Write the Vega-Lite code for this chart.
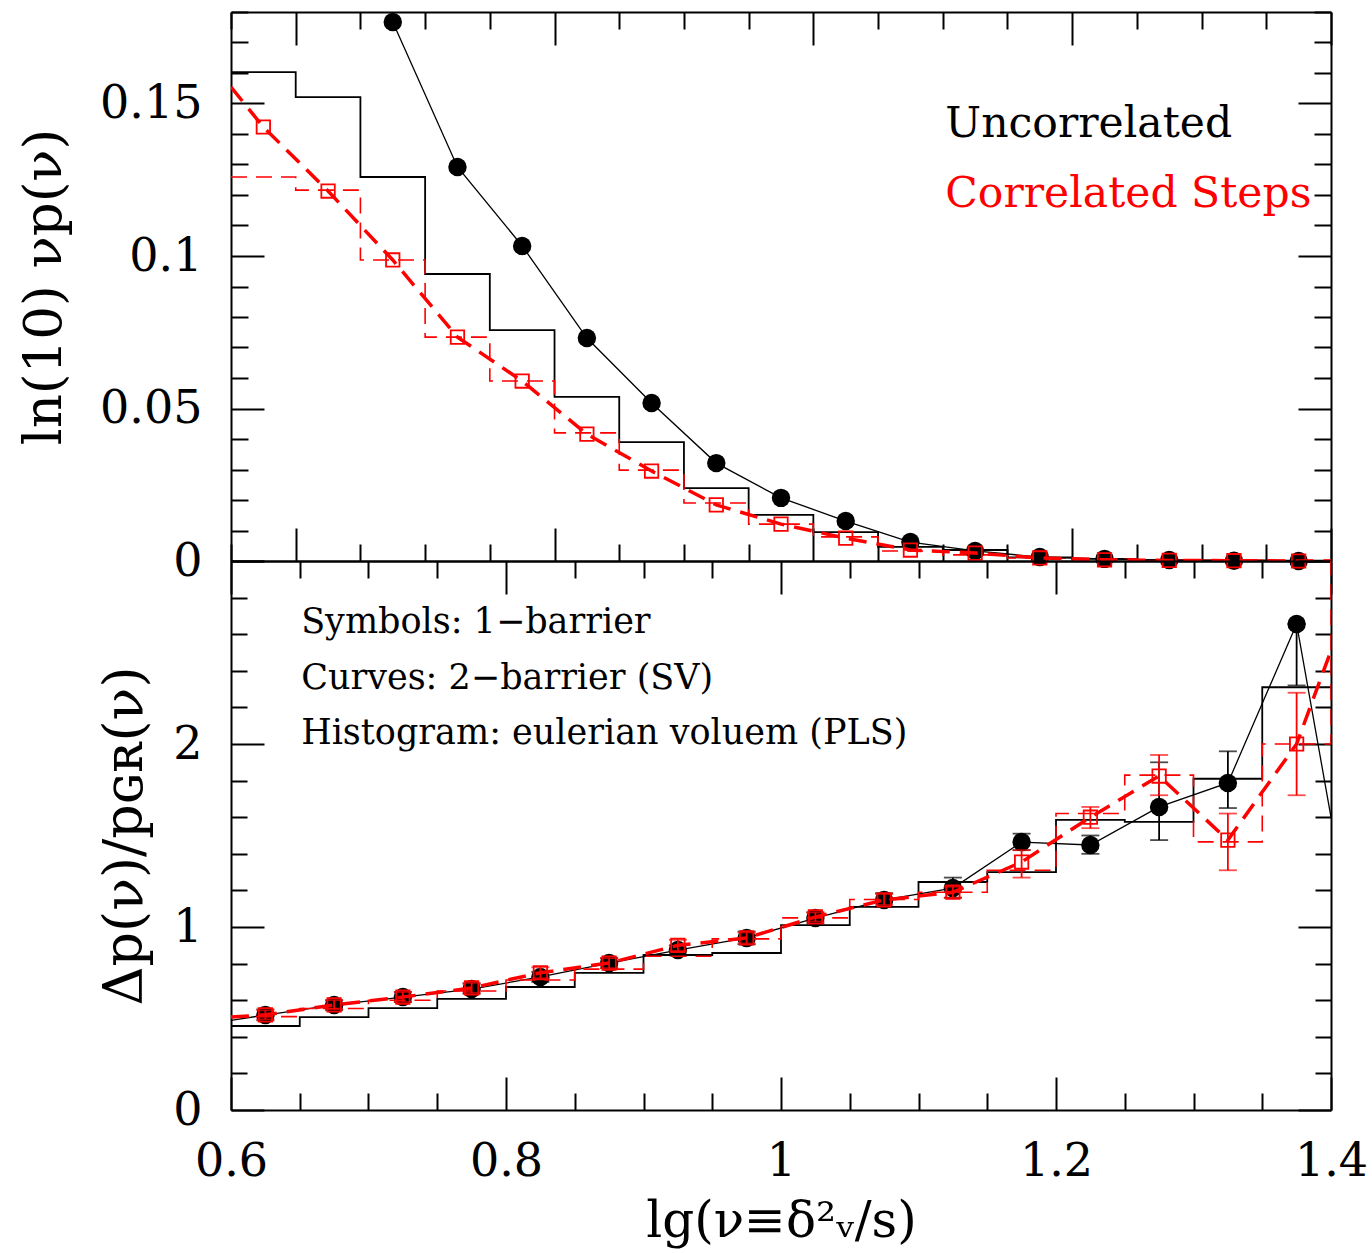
{
  "$schema": "https://vega.github.io/schema/vega-lite/v6.json",
  "background": "white",
  "padding": {"left": 18, "top": 11, "right": 5, "bottom": 5},
  "spacing": 0,
  "bounds": "flush",
  "config": {
    "font": "DejaVu Serif",
    "view": {"stroke": null},
    "axis": {
      "grid": false,
      "domainColor": "black",
      "domainWidth": 2,
      "tickColor": "black",
      "tickWidth": 2,
      "labelFont": "DejaVu Serif",
      "labelFontSize": 46,
      "labelColor": "black",
      "labelOverlap": false,
      "labelFlush": false,
      "titleFont": "DejaVu Serif",
      "titleFontSize": 50,
      "titleFontWeight": "normal",
      "titleColor": "black"
    }
  },
  "datasets": {
    "top_hist_uncorrelated": [
      {"lg_nu": 0.55, "value": 0.1603}, {"lg_nu": 0.60, "value": 0.1521}, {"lg_nu": 0.65, "value": 0.1259},
      {"lg_nu": 0.70, "value": 0.0941}, {"lg_nu": 0.75, "value": 0.0757}, {"lg_nu": 0.80, "value": 0.0538},
      {"lg_nu": 0.85, "value": 0.0390}, {"lg_nu": 0.90, "value": 0.0239}, {"lg_nu": 0.95, "value": 0.0151},
      {"lg_nu": 1.00, "value": 0.0095}, {"lg_nu": 1.05, "value": 0.0046}, {"lg_nu": 1.10, "value": 0.0036},
      {"lg_nu": 1.15, "value": 0.0012}, {"lg_nu": 1.20, "value": 0.0007}, {"lg_nu": 1.25, "value": 0.0003},
      {"lg_nu": 1.30, "value": 0.0002}, {"lg_nu": 1.35, "value": 0.0001}, {"lg_nu": 1.40, "value": 0.0001}
    ],
    "top_hist_correlated": [
      {"lg_nu": 0.55, "value": 0.1259}, {"lg_nu": 0.60, "value": 0.1216}, {"lg_nu": 0.65, "value": 0.0987},
      {"lg_nu": 0.70, "value": 0.0734}, {"lg_nu": 0.75, "value": 0.0590}, {"lg_nu": 0.80, "value": 0.0420},
      {"lg_nu": 0.85, "value": 0.0298}, {"lg_nu": 0.90, "value": 0.0190}, {"lg_nu": 0.95, "value": 0.0121},
      {"lg_nu": 1.00, "value": 0.0079}, {"lg_nu": 1.05, "value": 0.0033}, {"lg_nu": 1.10, "value": 0.0020},
      {"lg_nu": 1.15, "value": 0.0010}, {"lg_nu": 1.20, "value": 0.0006}, {"lg_nu": 1.25, "value": 0.0003},
      {"lg_nu": 1.30, "value": 0.0002}, {"lg_nu": 1.35, "value": 0.0001}, {"lg_nu": 1.40, "value": 0.0001}
    ],
    "top_curve_uncorrelated": [
      {"lg_nu": 0.675, "value": 0.1767}, {"lg_nu": 0.725, "value": 0.1292}, {"lg_nu": 0.775, "value": 0.1033},
      {"lg_nu": 0.825, "value": 0.0731}, {"lg_nu": 0.875, "value": 0.0518}, {"lg_nu": 0.925, "value": 0.0321},
      {"lg_nu": 0.975, "value": 0.0207}, {"lg_nu": 1.025, "value": 0.0131}, {"lg_nu": 1.075, "value": 0.0062},
      {"lg_nu": 1.125, "value": 0.0033}, {"lg_nu": 1.175, "value": 0.0013}, {"lg_nu": 1.225, "value": 0.0007},
      {"lg_nu": 1.275, "value": 0.0003}, {"lg_nu": 1.325, "value": 0.0001}, {"lg_nu": 1.375, "value": 0.0},
      {"lg_nu": 1.40, "value": 0.0}
    ],
    "top_curve_correlated": [
      {"lg_nu": 0.55, "value": 0.1554}, {"lg_nu": 0.575, "value": 0.1423}, {"lg_nu": 0.625, "value": 0.1213},
      {"lg_nu": 0.675, "value": 0.0987}, {"lg_nu": 0.725, "value": 0.0734}, {"lg_nu": 0.775, "value": 0.0590},
      {"lg_nu": 0.825, "value": 0.0416}, {"lg_nu": 0.875, "value": 0.0295}, {"lg_nu": 0.925, "value": 0.0184},
      {"lg_nu": 0.975, "value": 0.0121}, {"lg_nu": 1.025, "value": 0.0075}, {"lg_nu": 1.075, "value": 0.0036},
      {"lg_nu": 1.125, "value": 0.0026}, {"lg_nu": 1.175, "value": 0.0010}, {"lg_nu": 1.225, "value": 0.0004},
      {"lg_nu": 1.275, "value": 0.0002}, {"lg_nu": 1.325, "value": 0.0001}, {"lg_nu": 1.375, "value": 0.0},
      {"lg_nu": 1.40, "value": 0.0}
    ],
    "top_symbols_uncorrelated": [
      {"lg_nu": 0.675, "value": 0.1767}, {"lg_nu": 0.725, "value": 0.1292}, {"lg_nu": 0.775, "value": 0.1033},
      {"lg_nu": 0.825, "value": 0.0731}, {"lg_nu": 0.875, "value": 0.0518}, {"lg_nu": 0.925, "value": 0.0321},
      {"lg_nu": 0.975, "value": 0.0207}, {"lg_nu": 1.025, "value": 0.0131}, {"lg_nu": 1.075, "value": 0.0062},
      {"lg_nu": 1.125, "value": 0.0033}, {"lg_nu": 1.175, "value": 0.0013}, {"lg_nu": 1.225, "value": 0.0007},
      {"lg_nu": 1.275, "value": 0.0003}, {"lg_nu": 1.325, "value": 0.0001}, {"lg_nu": 1.375, "value": 0.0}
    ],
    "top_symbols_correlated": [
      {"lg_nu": 0.575, "value": 0.1423}, {"lg_nu": 0.625, "value": 0.1213}, {"lg_nu": 0.675, "value": 0.0987},
      {"lg_nu": 0.725, "value": 0.0734}, {"lg_nu": 0.775, "value": 0.0590}, {"lg_nu": 0.825, "value": 0.0416},
      {"lg_nu": 0.875, "value": 0.0295}, {"lg_nu": 0.925, "value": 0.0184}, {"lg_nu": 0.975, "value": 0.0121},
      {"lg_nu": 1.025, "value": 0.0075}, {"lg_nu": 1.075, "value": 0.0036}, {"lg_nu": 1.125, "value": 0.0026},
      {"lg_nu": 1.175, "value": 0.0010}, {"lg_nu": 1.225, "value": 0.0004}, {"lg_nu": 1.275, "value": 0.0002},
      {"lg_nu": 1.325, "value": 0.0001}, {"lg_nu": 1.375, "value": 0.0}
    ],
    "top_notes": [
      {"lg_nu": 1.102, "value": 0.1432, "note": "Uncorrelated", "series": "uncorrelated"},
      {"lg_nu": 1.102, "value": 0.1203, "note": "Correlated Steps", "series": "correlated"}
    ],
    "bottom_hist_uncorrelated": [
      {"lg_nu": 0.60, "value": 0.459}, {"lg_nu": 0.65, "value": 0.508}, {"lg_nu": 0.70, "value": 0.557},
      {"lg_nu": 0.75, "value": 0.607}, {"lg_nu": 0.80, "value": 0.672}, {"lg_nu": 0.85, "value": 0.749},
      {"lg_nu": 0.90, "value": 0.847}, {"lg_nu": 0.95, "value": 0.858}, {"lg_nu": 1.00, "value": 1.010},
      {"lg_nu": 1.05, "value": 1.110}, {"lg_nu": 1.10, "value": 1.246}, {"lg_nu": 1.15, "value": 1.300},
      {"lg_nu": 1.20, "value": 1.585}, {"lg_nu": 1.25, "value": 1.574}, {"lg_nu": 1.30, "value": 1.810},
      {"lg_nu": 1.35, "value": 2.310}, {"lg_nu": 1.40, "value": 2.310}
    ],
    "bottom_hist_correlated": [
      {"lg_nu": 0.60, "value": 0.510}, {"lg_nu": 0.65, "value": 0.555}, {"lg_nu": 0.70, "value": 0.600},
      {"lg_nu": 0.75, "value": 0.650}, {"lg_nu": 0.80, "value": 0.710}, {"lg_nu": 0.85, "value": 0.770},
      {"lg_nu": 0.90, "value": 0.840}, {"lg_nu": 0.95, "value": 0.935}, {"lg_nu": 1.00, "value": 1.050},
      {"lg_nu": 1.05, "value": 1.150}, {"lg_nu": 1.10, "value": 1.190}, {"lg_nu": 1.15, "value": 1.310},
      {"lg_nu": 1.20, "value": 1.620}, {"lg_nu": 1.25, "value": 1.830}, {"lg_nu": 1.30, "value": 1.465},
      {"lg_nu": 1.35, "value": 2.000}, {"lg_nu": 1.40, "value": 2.000}, {"lg_nu": 1.40, "value": 3.000}
    ],
    "bottom_curve_uncorrelated": [
      {"lg_nu": 0.60, "value": 0.490},
      {"lg_nu": 0.625, "value": 0.519}, {"lg_nu": 0.675, "value": 0.574}, {"lg_nu": 0.725, "value": 0.617},
      {"lg_nu": 0.775, "value": 0.661}, {"lg_nu": 0.825, "value": 0.727}, {"lg_nu": 0.875, "value": 0.803},
      {"lg_nu": 0.925, "value": 0.874}, {"lg_nu": 0.975, "value": 0.940}, {"lg_nu": 1.025, "value": 1.049},
      {"lg_nu": 1.075, "value": 1.148}, {"lg_nu": 1.125, "value": 1.213}, {"lg_nu": 1.175, "value": 1.464},
      {"lg_nu": 1.225, "value": 1.448}, {"lg_nu": 1.275, "value": 1.656}, {"lg_nu": 1.325, "value": 1.787},
      {"lg_nu": 1.375, "value": 2.656}, {"lg_nu": 1.40, "value": 1.600}
    ],
    "bottom_curve_correlated": [
      {"lg_nu": 0.60, "value": 0.508},
      {"lg_nu": 0.625, "value": 0.520}, {"lg_nu": 0.675, "value": 0.574}, {"lg_nu": 0.725, "value": 0.617},
      {"lg_nu": 0.775, "value": 0.667}, {"lg_nu": 0.825, "value": 0.750}, {"lg_nu": 0.875, "value": 0.803},
      {"lg_nu": 0.925, "value": 0.900}, {"lg_nu": 0.975, "value": 0.940}, {"lg_nu": 1.025, "value": 1.055},
      {"lg_nu": 1.075, "value": 1.148}, {"lg_nu": 1.125, "value": 1.190}, {"lg_nu": 1.175, "value": 1.355},
      {"lg_nu": 1.225, "value": 1.600}, {"lg_nu": 1.275, "value": 1.825}, {"lg_nu": 1.325, "value": 1.475},
      {"lg_nu": 1.375, "value": 2.000}, {"lg_nu": 1.40, "value": 2.510}
    ],
    "bottom_symbols_uncorrelated": [
      {"lg_nu": 0.625, "value": 0.519, "lo": 0.490, "hi": 0.550},
      {"lg_nu": 0.675, "value": 0.574, "lo": 0.545, "hi": 0.600},
      {"lg_nu": 0.725, "value": 0.617, "lo": 0.590, "hi": 0.645},
      {"lg_nu": 0.775, "value": 0.661, "lo": 0.635, "hi": 0.690},
      {"lg_nu": 0.825, "value": 0.727, "lo": 0.700, "hi": 0.755},
      {"lg_nu": 0.875, "value": 0.803, "lo": 0.775, "hi": 0.830},
      {"lg_nu": 0.925, "value": 0.874, "lo": 0.845, "hi": 0.900},
      {"lg_nu": 0.975, "value": 0.940, "lo": 0.905, "hi": 0.975},
      {"lg_nu": 1.025, "value": 1.049, "lo": 1.020, "hi": 1.080},
      {"lg_nu": 1.075, "value": 1.148, "lo": 1.110, "hi": 1.185},
      {"lg_nu": 1.125, "value": 1.213, "lo": 1.160, "hi": 1.270},
      {"lg_nu": 1.175, "value": 1.464, "lo": 1.420, "hi": 1.510},
      {"lg_nu": 1.225, "value": 1.448, "lo": 1.400, "hi": 1.500},
      {"lg_nu": 1.275, "value": 1.656, "lo": 1.475, "hi": 1.900},
      {"lg_nu": 1.325, "value": 1.787, "lo": 1.650, "hi": 1.960},
      {"lg_nu": 1.375, "value": 2.656, "lo": 2.320, "hi": 2.656}
    ],
    "bottom_symbols_correlated": [
      {"lg_nu": 0.625, "value": 0.520, "lo": 0.495, "hi": 0.545},
      {"lg_nu": 0.675, "value": 0.574, "lo": 0.550, "hi": 0.600},
      {"lg_nu": 0.725, "value": 0.617, "lo": 0.590, "hi": 0.645},
      {"lg_nu": 0.775, "value": 0.667, "lo": 0.640, "hi": 0.695},
      {"lg_nu": 0.825, "value": 0.750, "lo": 0.720, "hi": 0.780},
      {"lg_nu": 0.875, "value": 0.803, "lo": 0.775, "hi": 0.830},
      {"lg_nu": 0.925, "value": 0.900, "lo": 0.870, "hi": 0.930},
      {"lg_nu": 0.975, "value": 0.940, "lo": 0.910, "hi": 0.970},
      {"lg_nu": 1.025, "value": 1.055, "lo": 1.030, "hi": 1.080},
      {"lg_nu": 1.075, "value": 1.148, "lo": 1.120, "hi": 1.180},
      {"lg_nu": 1.125, "value": 1.190, "lo": 1.160, "hi": 1.220},
      {"lg_nu": 1.175, "value": 1.355, "lo": 1.270, "hi": 1.420},
      {"lg_nu": 1.225, "value": 1.600, "lo": 1.540, "hi": 1.656},
      {"lg_nu": 1.275, "value": 1.825, "lo": 1.720, "hi": 1.940},
      {"lg_nu": 1.325, "value": 1.475, "lo": 1.310, "hi": 1.620},
      {"lg_nu": 1.375, "value": 2.000, "lo": 1.720, "hi": 2.280}
    ],
    "bottom_notes": [
      {"lg_nu": 0.651, "value": 2.667, "note": "Symbols: 1−barrier"},
      {"lg_nu": 0.651, "value": 2.360, "note": "Curves: 2−barrier (SV)"},
      {"lg_nu": 0.651, "value": 2.060, "note": "Histogram: eulerian voluem (PLS)"}
    ]
  },
  "resolve": {"scale": {"x": "independent", "y": "independent"}},
  "vconcat": [
    {
      "width": 1100,
      "height": 549,
      "resolve": {"axis": {"x": "independent", "y": "independent"}},
      "layer": [
        {
          "data": {"name": "top_hist_uncorrelated"},
          "mark": {"type": "line", "interpolate": "step-after", "color": "black", "strokeWidth": 1.8, "clip": true},
          "encoding": {
            "x": {"field": "lg_nu", "type": "quantitative", "scale": {"domain": [0.55, 1.4], "nice": false, "zero": false},
              "axis": {"orient": "bottom", "title": null, "labels": false,
                "values": [0.55, 0.6, 0.65, 0.7, 0.75, 0.8, 0.85, 0.9, 0.95, 1, 1.05, 1.1, 1.15, 1.2, 1.25, 1.3, 1.35, 1.4],
                "tickSize": {"condition": {"test": "abs(datum.value*5 - round(datum.value*5)) < 0.001", "value": -33}, "value": -17}}},
            "y": {"field": "value", "type": "quantitative", "scale": {"domain": [0, 0.18], "nice": false},
              "axis": {"orient": "left", "title": "ln(10) νp(ν)", "titleFontSize": 53, "titlePadding": 28, "labelPadding": 62,
                "values": [0, 0.01, 0.02, 0.03, 0.04, 0.05, 0.06, 0.07, 0.08, 0.09, 0.1, 0.11, 0.12, 0.13, 0.14, 0.15, 0.16, 0.17, 0.18],
                "labelExpr": "abs(datum.value*20 - round(datum.value*20)) < 0.001 ? format(datum.value, '~g') : ''",
                "labelFontSize": {"condition": {"test": "abs(datum.value*20 - round(datum.value*20)) < 0.001", "value": 46}, "value": 0},
                "tickSize": {"condition": {"test": "abs(datum.value*20 - round(datum.value*20)) < 0.001", "value": -33}, "value": -17}}},
            "order": {"value": null}
          }
        },
        {
          "data": {"name": "top_hist_correlated"},
          "mark": {"type": "line", "interpolate": "step-after", "color": "red", "strokeWidth": 1.6, "strokeDash": [16, 9], "clip": true},
          "encoding": {
            "x": {"field": "lg_nu", "type": "quantitative", "scale": {"domain": [0.55, 1.4], "nice": false, "zero": false},
              "axis": {"orient": "top", "title": null, "labels": false,
                "values": [0.55, 0.6, 0.65, 0.7, 0.75, 0.8, 0.85, 0.9, 0.95, 1, 1.05, 1.1, 1.15, 1.2, 1.25, 1.3, 1.35, 1.4],
                "tickSize": {"condition": {"test": "abs(datum.value*5 - round(datum.value*5)) < 0.001", "value": -33}, "value": -17}}},
            "y": {"field": "value", "type": "quantitative", "scale": {"domain": [0, 0.18], "nice": false},
              "axis": {"orient": "right", "title": null, "labels": false,
                "values": [0, 0.01, 0.02, 0.03, 0.04, 0.05, 0.06, 0.07, 0.08, 0.09, 0.1, 0.11, 0.12, 0.13, 0.14, 0.15, 0.16, 0.17, 0.18],
                "tickSize": {"condition": {"test": "abs(datum.value*20 - round(datum.value*20)) < 0.001", "value": -33}, "value": -17}}},
            "order": {"value": null}
          }
        },
        {
          "data": {"name": "top_curve_uncorrelated"},
          "mark": {"type": "line", "color": "black", "strokeWidth": 1.3, "clip": true},
          "encoding": {
            "x": {"field": "lg_nu", "type": "quantitative", "scale": {"domain": [0.55, 1.4], "nice": false, "zero": false}, "axis": null},
            "y": {"field": "value", "type": "quantitative", "scale": {"domain": [0, 0.18], "nice": false}, "axis": null},
            "order": {"value": null}
          }
        },
        {
          "data": {"name": "top_symbols_uncorrelated"},
          "mark": {"type": "point", "shape": "circle", "filled": true, "color": "black", "opacity": 1, "size": 340},
          "encoding": {
            "x": {"field": "lg_nu", "type": "quantitative", "scale": {"domain": [0.55, 1.4], "nice": false, "zero": false}, "axis": null},
            "y": {"field": "value", "type": "quantitative", "scale": {"domain": [0, 0.18], "nice": false}, "axis": null}
          }
        },
        {
          "data": {"name": "top_curve_correlated"},
          "mark": {"type": "line", "color": "red", "strokeWidth": 3.5, "strokeDash": [18, 10], "clip": true},
          "encoding": {
            "x": {"field": "lg_nu", "type": "quantitative", "scale": {"domain": [0.55, 1.4], "nice": false, "zero": false}, "axis": null},
            "y": {"field": "value", "type": "quantitative", "scale": {"domain": [0, 0.18], "nice": false}, "axis": null},
            "order": {"value": null}
          }
        },
        {
          "data": {"name": "top_symbols_correlated"},
          "mark": {"type": "point", "shape": "square", "filled": false, "color": "red", "opacity": 1, "strokeWidth": 1.8, "size": 180},
          "encoding": {
            "x": {"field": "lg_nu", "type": "quantitative", "scale": {"domain": [0.55, 1.4], "nice": false, "zero": false}, "axis": null},
            "y": {"field": "value", "type": "quantitative", "scale": {"domain": [0, 0.18], "nice": false}, "axis": null}
          }
        },
        {
          "data": {"name": "top_notes"},
          "mark": {"type": "text", "align": "left", "baseline": "middle", "font": "DejaVu Serif", "fontSize": 42.5},
          "encoding": {
            "x": {"field": "lg_nu", "type": "quantitative", "scale": {"domain": [0.55, 1.4], "nice": false, "zero": false}, "axis": null},
            "y": {"field": "value", "type": "quantitative", "scale": {"domain": [0, 0.18], "nice": false}, "axis": null},
            "text": {"field": "note"},
            "color": {"field": "series", "type": "nominal", "scale": {"domain": ["uncorrelated", "correlated"], "range": ["black", "red"]}, "legend": null}
          }
        }
      ]
    },
    {
      "width": 1100,
      "height": 549,
      "resolve": {"axis": {"x": "independent", "y": "independent"}},
      "layer": [
        {
          "data": {"name": "bottom_hist_uncorrelated"},
          "mark": {"type": "line", "interpolate": "step-after", "color": "black", "strokeWidth": 1.8, "clip": true},
          "encoding": {
            "x": {"field": "lg_nu", "type": "quantitative", "scale": {"domain": [0.6, 1.4], "nice": false, "zero": false},
              "axis": {"orient": "bottom", "title": "lg(ν≡δ²ᵥ/s)", "titlePadding": 12, "labelPadding": 62,
                "values": [0.6, 0.65, 0.7, 0.75, 0.8, 0.85, 0.9, 0.95, 1, 1.05, 1.1, 1.15, 1.2, 1.25, 1.3, 1.35, 1.4],
                "labelExpr": "abs(datum.value*5 - round(datum.value*5)) < 0.001 ? format(datum.value, '~g') : ''",
                "labelFontSize": {"condition": {"test": "abs(datum.value*5 - round(datum.value*5)) < 0.001", "value": 46}, "value": 0},
                "tickSize": {"condition": {"test": "abs(datum.value*5 - round(datum.value*5)) < 0.001", "value": -33}, "value": -17}}},
            "y": {"field": "value", "type": "quantitative", "scale": {"domain": [0, 3], "nice": false},
              "axis": {"orient": "left", "title": "Δp(ν)/pɢʀ(ν)", "titleFontSize": 54, "titlePadding": 20, "labelPadding": 62,
                "values": [0, 0.2, 0.4, 0.6, 0.8, 1, 1.2, 1.4, 1.6, 1.8, 2, 2.2, 2.4, 2.6, 2.8, 3],
                "labelExpr": "datum.value < 2.5 && abs(datum.value - round(datum.value)) < 0.001 ? format(datum.value, '~g') : ''",
                "labelFontSize": {"condition": {"test": "datum.value < 2.5 && abs(datum.value - round(datum.value)) < 0.001", "value": 46}, "value": 0},
                "tickSize": {"condition": {"test": "abs(datum.value - round(datum.value)) < 0.001", "value": -33}, "value": -16}}},
            "order": {"value": null}
          }
        },
        {
          "data": {"name": "bottom_curve_uncorrelated"},
          "mark": {"type": "line", "color": "black", "strokeWidth": 1.3, "clip": true},
          "encoding": {
            "x": {"field": "lg_nu", "type": "quantitative", "scale": {"domain": [0.6, 1.4], "nice": false, "zero": false},
              "axis": {"orient": "top", "title": null, "labels": false,
                "values": [0.6, 0.65, 0.7, 0.75, 0.8, 0.85, 0.9, 0.95, 1, 1.05, 1.1, 1.15, 1.2, 1.25, 1.3, 1.35, 1.4],
                "tickSize": {"condition": {"test": "abs(datum.value*5 - round(datum.value*5)) < 0.001", "value": -33}, "value": -17}}},
            "y": {"field": "value", "type": "quantitative", "scale": {"domain": [0, 3], "nice": false},
              "axis": {"orient": "right", "title": null, "labels": false,
                "values": [0, 0.2, 0.4, 0.6, 0.8, 1, 1.2, 1.4, 1.6, 1.8, 2, 2.2, 2.4, 2.6, 2.8, 3],
                "tickSize": {"condition": {"test": "abs(datum.value - round(datum.value)) < 0.001", "value": -33}, "value": -16}}},
            "order": {"value": null}
          }
        },
        {
          "data": {"name": "bottom_symbols_uncorrelated"},
          "mark": {"type": "errorbar", "color": "black", "thickness": 1.8, "ticks": {"size": 18, "color": "black", "thickness": 1.8}},
          "encoding": {
            "x": {"field": "lg_nu", "type": "quantitative", "scale": {"domain": [0.6, 1.4], "nice": false, "zero": false}, "axis": null},
            "y": {"field": "lo", "type": "quantitative", "scale": {"domain": [0, 3], "nice": false}, "axis": null},
            "y2": {"field": "hi"}
          }
        },
        {
          "data": {"name": "bottom_symbols_uncorrelated"},
          "mark": {"type": "point", "shape": "circle", "filled": true, "color": "black", "opacity": 1, "size": 340},
          "encoding": {
            "x": {"field": "lg_nu", "type": "quantitative", "scale": {"domain": [0.6, 1.4], "nice": false, "zero": false}, "axis": null},
            "y": {"field": "value", "type": "quantitative", "scale": {"domain": [0, 3], "nice": false}, "axis": null}
          }
        },
        {
          "data": {"name": "bottom_hist_correlated"},
          "mark": {"type": "line", "interpolate": "step-after", "color": "red", "strokeWidth": 1.6, "strokeDash": [16, 9], "clip": true},
          "encoding": {
            "x": {"field": "lg_nu", "type": "quantitative", "scale": {"domain": [0.6, 1.4], "nice": false, "zero": false}, "axis": null},
            "y": {"field": "value", "type": "quantitative", "scale": {"domain": [0, 3], "nice": false}, "axis": null},
            "order": {"value": null}
          }
        },
        {
          "data": {"name": "bottom_curve_correlated"},
          "mark": {"type": "line", "color": "red", "strokeWidth": 3.5, "strokeDash": [18, 10], "clip": true},
          "encoding": {
            "x": {"field": "lg_nu", "type": "quantitative", "scale": {"domain": [0.6, 1.4], "nice": false, "zero": false}, "axis": null},
            "y": {"field": "value", "type": "quantitative", "scale": {"domain": [0, 3], "nice": false}, "axis": null},
            "order": {"value": null}
          }
        },
        {
          "data": {"name": "bottom_symbols_correlated"},
          "mark": {"type": "errorbar", "color": "red", "thickness": 1.8, "ticks": {"size": 18, "color": "red", "thickness": 1.8}},
          "encoding": {
            "x": {"field": "lg_nu", "type": "quantitative", "scale": {"domain": [0.6, 1.4], "nice": false, "zero": false}, "axis": null},
            "y": {"field": "lo", "type": "quantitative", "scale": {"domain": [0, 3], "nice": false}, "axis": null},
            "y2": {"field": "hi"}
          }
        },
        {
          "data": {"name": "bottom_symbols_correlated"},
          "mark": {"type": "point", "shape": "square", "filled": false, "color": "red", "opacity": 1, "strokeWidth": 1.8, "size": 180},
          "encoding": {
            "x": {"field": "lg_nu", "type": "quantitative", "scale": {"domain": [0.6, 1.4], "nice": false, "zero": false}, "axis": null},
            "y": {"field": "value", "type": "quantitative", "scale": {"domain": [0, 3], "nice": false}, "axis": null}
          }
        },
        {
          "data": {"name": "bottom_notes"},
          "mark": {"type": "text", "align": "left", "baseline": "middle", "font": "DejaVu Serif", "fontSize": 35, "color": "black"},
          "encoding": {
            "x": {"field": "lg_nu", "type": "quantitative", "scale": {"domain": [0.6, 1.4], "nice": false, "zero": false}, "axis": null},
            "y": {"field": "value", "type": "quantitative", "scale": {"domain": [0, 3], "nice": false}, "axis": null},
            "text": {"field": "note"}
          }
        }
      ]
    }
  ]
}
